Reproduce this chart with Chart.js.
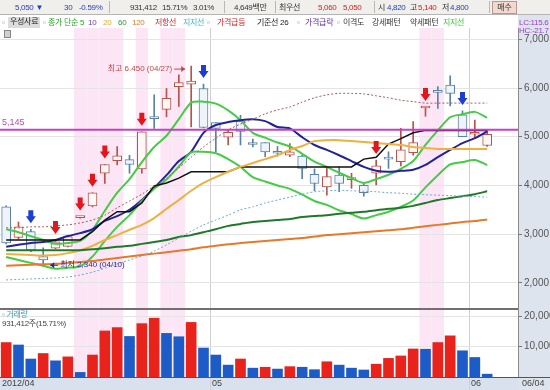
<!DOCTYPE html>
<html>
<head>
<meta charset="utf-8">
<script src="https://cdn.jsdelivr.net/npm/chart.js@4.4.1/dist/chart.umd.min.js"></script>
<style>
  body { margin: 0; width: 550px; height: 390px; overflow: hidden; background: #fff;
         font-family: 'Liberation Sans', 'Noto Sans CJK KR', sans-serif; }
  #chart { position: absolute; left: 0; top: 0; }
  .bar { position: absolute; left: 0; top: 0; width: 550px; height: 15px; background: #f1efec;
         border-bottom: 1px solid #b4b4b4; box-sizing: border-box; }
  .t { position: absolute; white-space: nowrap; font-size: 8px; line-height: 10px; letter-spacing: -0.3px; }
  .sep { position: absolute; top: 1px; width: 1px; height: 12px; background: #b8b8b8; }
  .btn { position: absolute; left: 492px; top: 1px; width: 23px; height: 11px; background: #f3d8d0;
         border: 1px solid #b89890; font-size: 8px; line-height: 11px; text-align: center; color: #333; }
  .ic { position: absolute; left: 4px; top: 30px; width: 5px; height: 6px; border: 1px solid #888; background: #d0d0d0; }
</style>
</head>
<body>
<canvas id="chart" width="550" height="390"></canvas>

<div class="bar">
  <span class="t" style="left:15px;top:3px;color:#1f3fbf">5,050 ▼</span>
  <span class="t" style="left:64px;top:3px;color:#1f3fbf">30</span>
  <span class="t" style="left:79px;top:3px;color:#1f3fbf">-0.59%</span>
  <span class="sep" style="left:109px"></span>
  <span class="t" style="left:130px;top:3px;color:#333">931,412</span>
  <span class="t" style="left:162px;top:3px;color:#333">15.71%</span>
  <span class="t" style="left:193px;top:3px;color:#333">3.01%</span>
  <span class="sep" style="left:224px"></span>
  <span class="t" style="left:234px;top:3px;color:#333">4,649백만</span>
  <span class="sep" style="left:275px"></span>
  <span class="t" style="left:279px;top:3px;color:#333">최우선</span>
  <span class="t" style="left:318px;top:3px;color:#d42020">5,060</span>
  <span class="t" style="left:343px;top:3px;color:#d42020">5,050</span>
  <span class="sep" style="left:374px"></span>
  <span class="t" style="left:378px;top:3px;color:#333">시</span>
  <span class="t" style="left:387px;top:3px;color:#1f3fbf">4,820</span>
  <span class="t" style="left:410px;top:3px;color:#333">고</span>
  <span class="t" style="left:418px;top:3px;color:#d42020">5,140</span>
  <span class="t" style="left:442px;top:3px;color:#333">저</span>
  <span class="t" style="left:450px;top:3px;color:#1f3fbf">4,800</span>
  <span class="sep" style="left:489px"></span>
  <span class="btn">매수</span>
</div>

<span class="t" style="left:2px;top:18px;color:#888">▫</span>
<span class="t" style="left:8px;top:17px;height:11px;padding:0 2px;background:#dcdcdc;color:#222">우성사료</span>
<span class="t" style="left:43px;top:18px;color:#888">▫</span>
<span class="t" style="left:48px;top:18px;color:#22aa22">종가 단순 5</span>
<span class="t" style="left:88px;top:18px;color:#6a3fc0">10</span>
<span class="t" style="left:103px;top:18px;color:#e8a830">20</span>
<span class="t" style="left:118px;top:18px;color:#2a9a2a">60</span>
<span class="t" style="left:132px;top:18px;color:#e07a20">120</span>
<span class="t" style="left:155px;top:18px;color:#d02828">저항선</span>
<span class="t" style="left:183px;top:18px;color:#40b8c8">지지선</span>
<span class="t" style="left:207px;top:18px;color:#888">▫</span>
<span class="t" style="left:217px;top:18px;color:#d02828">가격급등</span>
<span class="t" style="left:257px;top:18px;color:#222">기준선 26</span>
<span class="t" style="left:297px;top:18px;color:#888">▫</span>
<span class="t" style="left:305px;top:18px;color:#6a2ab0">가격급락</span>
<span class="t" style="left:337px;top:18px;color:#888">▫</span>
<span class="t" style="left:343px;top:18px;color:#333">이격도</span>
<span class="t" style="left:372px;top:18px;color:#333">강세패턴</span>
<span class="t" style="left:410px;top:18px;color:#333">약세패턴</span>
<span class="t" style="left:443px;top:18px;color:#3ccc3c">지지선</span>
<span class="t" style="left:519px;top:18px;color:#a03cc8">LC:115.6</span>
<span class="t" style="left:519px;top:26px;color:#a03cc8">HC:-21.7</span>
<div class="ic"></div>
<span class="t" style="left:2px;top:310px;color:#3b9bb5">▫ 거래량</span>
<span class="t" style="left:2px;top:319px;color:#444">931,412주(15.71%)</span>

<script>
// trading days shown (2012)
const dates = ['04/05','04/06','04/09','04/10','04/12','04/13','04/16','04/17','04/18','04/19','04/20',
  '04/23','04/24','04/25','04/26','04/27','04/30','05/02','05/03','05/04','05/07','05/08','05/09','05/10',
  '05/11','05/14','05/15','05/16','05/17','05/18','05/21','05/22','05/23','05/24','05/25','05/29','05/30',
  '05/31','06/01','06/04'];

// daily candles (won)
const opens  = [3560,2930,3050,2540,2710,2750,3340,3580,4250,4510,4530,4340,5380,5560,6030,6080,5990,5290,4990,5320,
                4880,4880,4700,4620,4600,4230,3970,4210,4120,4000,4250,4570,4490,4670,5590,5930,6060,5450,5050,4820];
const highs  = [3580,3250,3100,2720,2880,2960,3360,3850,4430,4800,4620,5100,5860,5990,6270,6450,6080,5290,5140,5440,
                4950,4880,4800,4860,4630,4340,4350,4380,4250,4020,4520,4690,5170,5310,5610,6030,6250,5530,5340,5140];
const lows   = [2800,2900,2640,2340,2700,2740,3330,3560,4040,4420,4250,4250,5170,5410,5620,5200,5180,4690,4830,4830,
                4790,4590,4600,4590,4140,3890,3800,3870,3940,3780,4010,4350,4400,4620,5420,5580,5630,5000,4990,4800];
const closes = [2820,3150,2670,2470,2840,2950,3350,3850,4430,4610,4430,5100,5370,5790,6110,6140,5190,5170,5090,5110,
                4840,4690,4660,4690,4350,4040,4180,4040,4160,3850,4400,4540,4730,4880,5610,5910,5890,5000,5080,5050];

// volume, thousand shares
const volume = [11300,10500,5900,7700,5300,6600,1500,7200,15100,16200,13300,17500,19300,14300,13200,17900,9500,7200,
                3900,5900,2900,3200,2600,3400,3200,2400,5000,3900,2900,2300,4200,6100,6900,9200,9100,11300,13500,
                8600,6400,931];

// indicator lines (won)
const ma5    = [3100,3040,2960,2880,2800,2820,2860,3090,3480,3850,4130,4480,4790,5020,5360,5700,5720,5680,5540,5340,
                5080,4980,4880,4800,4650,4490,4380,4260,4150,4050,4130,4220,4340,4500,4830,5130,5400,5460,5510,5390];
const envLow = [2530,2470,2410,2350,2290,2310,2340,2540,2860,3150,3390,3680,3930,4120,4390,4680,4690,4660,4540,4380,
                4170,4080,4000,3930,3810,3680,3600,3490,3410,3320,3390,3460,3560,3690,3960,4210,4430,4480,4520,4420];
const ma10   = [2740,2780,2820,2840,2880,2960,3020,3100,3270,3370,3500,3700,3950,4210,4500,4690,5080,5240,5300,5340,
                5360,5320,5200,5170,4990,4830,4730,4620,4500,4380,4300,4280,4300,4320,4420,4580,4730,4870,4970,5110];
const ma20   = [2590,2580,2570,2560,2570,2610,2670,2760,2880,2980,3090,3190,3330,3520,3700,3890,4050,4170,4280,4380,
                4460,4540,4620,4730,4810,4910,4930,4930,4910,4890,4870,4850,4830,4790,4770,4750,4750,4750,4750,4750];
const ma60   = [2670,2670,2670,2670,2670,2670,2670,2690,2710,2740,2760,2800,2840,2880,2940,2980,3040,3100,3170,3210,
                3250,3270,3290,3310,3350,3370,3390,3420,3440,3460,3490,3520,3540,3580,3640,3700,3740,3780,3820,3880];
const ma120  = [2350,2360,2370,2380,2390,2410,2430,2450,2480,2510,2540,2570,2600,2630,2660,2690,2730,2760,2790,2820,
                2840,2860,2880,2900,2920,2950,2980,3000,3020,3040,3060,3080,3100,3130,3160,3190,3220,3250,3270,3300];
const kijun  = [2880,2880,2880,2880,2880,2880,2880,3050,3290,3460,3460,3640,3990,4050,4150,4280,4280,4280,4280,4380,
                4380,4380,4380,4380,4380,4380,4380,4380,4380,4540,4580,4850,4960,5080,5130,5130,5130,5130,5130,5130];
const resist = [3130,3130,3150,3150,3170,3190,3230,3290,3390,3540,3680,3820,3990,4150,4360,4580,4790,4970,5140,5260,
                5360,5470,5550,5610,5710,5800,5860,5890,5890,5880,5840,5800,5750,5720,5690,5690,5690,5690,5690,5690];
const support= [2060,2070,2080,2090,2100,2120,2160,2220,2300,2390,2470,2550,2650,2780,2920,3060,3190,3290,3390,3500,
                3560,3640,3700,3760,3820,3870,3890,3900,3890,3880,3870,3850,3840,3820,3810,3800,3790,3780,3770,3760];

const refPrice = 5145;
const surgeDays = [6,7,8,9,11,13,14,34,35];
const upSignals = [4,6,7,8,11,30,34];
const downSignals = [2,16,37];
const highIdx = 15, lowIdx = 3;
const priceTicks = [2000,2500,3000,3500,4000,4500,5000,5500,6000,6500,7000];
const volTicks = [10000,20000];

const labels = dates.concat(['', '']);
const RED = '#b8524a', BLUE = '#5a82a8';
const isUp = closes.map((c, i) => c >= opens[i]);
const fmt = v => v.toLocaleString('en-US');

function arrow(ctx, x, tip, color) {
  ctx.fillStyle = color;
  ctx.beginPath();
  ctx.moveTo(x - 2.5, tip - 13);
  ctx.lineTo(x + 2.5, tip - 13);
  ctx.lineTo(x + 2.5, tip - 7);
  ctx.lineTo(x + 5, tip - 7);
  ctx.lineTo(x, tip);
  ctx.lineTo(x - 5, tip - 7);
  ctx.lineTo(x - 2.5, tip - 7);
  ctx.closePath();
  ctx.fill();
}

const overlay = {
  id: 'overlay',
  beforeDraw(chart) {
    const { ctx, chartArea: a, scales: { x } } = chart;
    const half = (x.getPixelForValue(1) - x.getPixelForValue(0)) / 2;
    ctx.save();
    ctx.fillStyle = '#dde4ed';
    ctx.fillRect(a.right, 15, 550 - a.right, 375);
    ctx.fillStyle = '#d8e1ed';
    ctx.fillRect(0, a.bottom, a.right, 390 - a.bottom);
    ctx.fillStyle = '#fce6f6';
    surgeDays.forEach(i => ctx.fillRect(x.getPixelForValue(i) - half, a.top, half * 2, a.bottom - a.top));
    // month boundaries
    ctx.strokeStyle = '#cfcfcf';
    ctx.lineWidth = 1;
    dates.forEach((d, i) => {
      if (i > 0 && d.slice(0, 2) !== dates[i - 1].slice(0, 2)) {
        const px = Math.round(x.getPixelForValue(i) - half) + 0.5;
        ctx.beginPath(); ctx.moveTo(px, a.top); ctx.lineTo(px, 390); ctx.stroke();
      }
    });
    ctx.restore();
  },
  afterDatasetsDraw(chart) {
    const { ctx, chartArea: a, scales: { x, y, v } } = chart;
    const half = (x.getPixelForValue(1) - x.getPixelForValue(0)) / 2;
    ctx.save();
    // reference price line
    const ry = y.getPixelForValue(refPrice);
    ctx.strokeStyle = '#c63fc6';
    ctx.lineWidth = 2;
    ctx.beginPath(); ctx.moveTo(0, ry); ctx.lineTo(a.right, ry); ctx.stroke();
    ctx.font = '9px "Liberation Sans"';
    ctx.fillStyle = '#b84cb8';
    ctx.textBaseline = 'middle';
    ctx.fillText(fmt(refPrice), 2, ry - 7);

    // signal arrows
    upSignals.forEach(i => arrow(ctx, x.getPixelForValue(i), y.getPixelForValue(highs[i]) - 6, '#e3161c'));
    downSignals.forEach(i => arrow(ctx, x.getPixelForValue(i), y.getPixelForValue(highs[i]) - 6, '#1c3fd2'));

    // high / low annotations
    ctx.font = '8px "Liberation Sans", "Noto Sans CJK KR"';
    let hx = x.getPixelForValue(highIdx) - 6, hy = y.getPixelForValue(highs[highIdx]) + 3;
    ctx.strokeStyle = ctx.fillStyle = '#c04848';
    ctx.lineWidth = 1;
    ctx.beginPath(); ctx.moveTo(hx - 11, hy); ctx.lineTo(hx, hy); ctx.stroke();
    ctx.beginPath(); ctx.moveTo(hx, hy); ctx.lineTo(hx - 4, hy - 3); ctx.lineTo(hx - 4, hy + 3); ctx.fill();
    ctx.textAlign = 'right';
    ctx.fillText('최고 ' + highs[highIdx].toLocaleString('en-US').replace(',', '.') + ' (' + dates[highIdx] + ')', hx - 13, hy);

    let lx = x.getPixelForValue(lowIdx) + 7, ly = y.getPixelForValue(lows[lowIdx]) - 1;
    ctx.strokeStyle = ctx.fillStyle = '#2a2a90';
    ctx.beginPath(); ctx.moveTo(lx, ly); ctx.lineTo(lx + 8, ly); ctx.stroke();
    ctx.beginPath(); ctx.moveTo(lx, ly); ctx.lineTo(lx + 4, ly - 3); ctx.lineTo(lx + 4, ly + 3); ctx.fill();
    ctx.textAlign = 'left';
    ctx.fillText('최저 ' + fmt(lows[lowIdx]) + ' (' + dates[lowIdx] + ')', lx + 10, ly);

    // panel separator and date band
    ctx.strokeStyle = '#707070';
    ctx.lineWidth = 2;
    ctx.beginPath(); ctx.moveTo(0, v.top); ctx.lineTo(a.right, v.top); ctx.stroke();
    ctx.strokeStyle = '#555';
    ctx.lineWidth = 1;
    ctx.beginPath(); ctx.moveTo(0, a.bottom + 0.5); ctx.lineTo(550, a.bottom + 0.5); ctx.stroke();

    ctx.font = '9px "Liberation Sans"';
    ctx.fillStyle = '#444';
    ctx.textAlign = 'left';
    dates.forEach((d, i) => {
      if (i === 0) ctx.fillText('2012/' + d.slice(0, 2), 2, a.bottom + 7);
      else if (d.slice(0, 2) !== dates[i - 1].slice(0, 2))
        ctx.fillText(d.slice(0, 2), Math.round(x.getPixelForValue(i) - half) + 2, a.bottom + 7);
    });
    ctx.fillText(dates[dates.length - 1], a.right + 4, a.bottom + 7);
    ctx.restore();
  }
};

const axisCommon = {
  position: 'right',
  stack: 'panes',
  afterFit: s => { s.width = 32; },
  grid: { color: '#e4e4e4', tickLength: 4, tickColor: '#777' },
  border: { color: '#8a8a8a' },
  ticks: { padding: 2, color: '#555', font: { family: 'Liberation Sans', size: 10 } }
};

new Chart(document.getElementById('chart'), {
  type: 'bar',
  data: {
    labels: labels,
    datasets: [
      { type: 'line', data: resist, borderColor: '#b05a5a', borderWidth: 1, borderDash: [2, 2], order: 0 },
      { type: 'line', data: support, borderColor: '#6aaecc', borderWidth: 1, borderDash: [2, 2], order: 0 },
      { type: 'line', data: ma120, borderColor: '#e8782a', borderWidth: 2, order: 0 },
      { type: 'line', data: ma60, borderColor: '#1e7a2a', borderWidth: 2, order: 0 },
      { type: 'line', data: ma20, borderColor: '#f0b040', borderWidth: 2, order: 0 },
      { type: 'line', data: kijun, borderColor: '#111', borderWidth: 1.5, tension: 0, order: 0 },
      { type: 'line', data: envLow, borderColor: '#44cc44', borderWidth: 2, order: 0 },
      { type: 'line', data: ma10, borderColor: '#22229a', borderWidth: 2, order: 0 },
      { type: 'line', data: ma5, borderColor: '#44cc44', borderWidth: 2, order: 0 },
      { data: opens.map((o, i) => [o, closes[i]]), yAxisID: 'y', grouped: false, barThickness: 9, minBarLength: 2,
        backgroundColor: isUp.map(u => u ? '#fff7f4' : '#eef4fa'), borderColor: isUp.map(u => u ? RED : BLUE),
        borderWidth: 1, borderSkipped: false, order: 1 },
      { data: lows.map((l, i) => [l, highs[i]]), yAxisID: 'y', grouped: false, barThickness: 1,
        backgroundColor: isUp.map(u => u ? RED : BLUE), order: 2 },
      { data: volume, yAxisID: 'v', grouped: false, barThickness: 10,
        backgroundColor: volume.map((q, i) => i === 0 || q > volume[i - 1] ? '#e8231b' : '#1d5bc6'), order: 3 }
    ].map(d => d.type === 'line'
      ? Object.assign({ yAxisID: 'y', pointRadius: 0, tension: 0.25, fill: false }, d) : d)
  },
  options: {
    responsive: false,
    animation: false,
    layout: { padding: { top: 28, bottom: 13, left: 0, right: 0 } },
    plugins: { legend: { display: false }, tooltip: { enabled: false } },
    scales: {
      x: { type: 'category', offset: true, display: false },
      y: Object.assign({}, axisCommon, {
        stackWeight: 281, min: 1463, max: 7232,
        afterBuildTicks: s => { s.ticks = priceTicks.map(p => ({ value: p })); },
        ticks: Object.assign({}, axisCommon.ticks, { callback: fmt })
      }),
      v: Object.assign({}, axisCommon, {
        stackWeight: 68, min: 0, max: 22300,
        afterBuildTicks: s => { s.ticks = volTicks.map(p => ({ value: p })); },
        ticks: Object.assign({}, axisCommon.ticks, { callback: q => fmt(q) + 'K' })
      })
    }
  },
  plugins: [overlay]
});
</script>
</body>
</html>
